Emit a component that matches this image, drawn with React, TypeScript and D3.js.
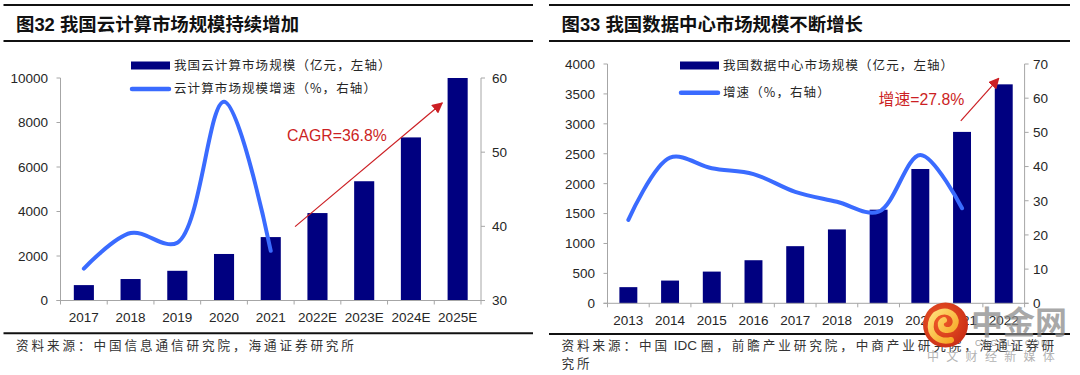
import React from 'react';
import * as d3 from 'd3';

// ---- Data: left chart (cloud computing) ----
const cloudYears = ['2017', '2018', '2019', '2020', '2021', '2022E', '2023E', '2024E', '2025E'];
const cloudSize = [692, 965, 1335, 2091, 2850, 3930, 5360, 7330, 10000];
const cloudGrowthYears = ['2017', '2018', '2019', '2020', '2021'];
const cloudGrowth = [34.3, 39.1, 37.8, 56.8, 36.7];
const cloudLeftTicks = [0, 2000, 4000, 6000, 8000, 10000];
const cloudRightTicks = [30, 40, 50, 60];

// ---- Data: right chart (data center) ----
const dcYears = ['2013', '2014', '2015', '2016', '2017', '2018', '2019', '2020', '2021', '2022'];
const dcSize = [270, 380, 530, 720, 955, 1235, 1565, 2245, 2865, 3660];
const dcGrowthYears = ['2013', '2014', '2015', '2016', '2017', '2018', '2019', '2020', '2021'];
const dcGrowth = [24.4, 42.6, 39.5, 37.8, 32.6, 29.7, 26.8, 43.4, 27.8];
const dcLeftTicks = [0, 500, 1000, 1500, 2000, 2500, 3000, 3500, 4000];
const dcRightTicks = [0, 10, 20, 30, 40, 50, 60, 70];

const NAVY = '#000080';
const BLUE = '#3A6BFF';
const RED = '#CC1F24';
const AXIS = '#A6A6A6';
const TXT = '#262626';
const NUM_FONT = '"Liberation Sans", Arial, sans-serif';
const CJK_FONT = '"Noto Sans CJK SC", "Noto Sans", sans-serif';

type PanelProps = {
  years: string[];
  size: number[];
  growthYears: string[];
  growth: number[];
  leftTicks: number[];
  rightTicks: number[];
  leftMax: number;
  rightDomain: [number, number];
  x0: number;
  x1: number;
  yTop: number;
  yBot: number;
  legendX: number;
  legendY1: number;
  legendY2: number;
  legend1: string;
  legend2: string;
  annot: { from: [number, number]; to: [number, number]; textAt: [number, number]; label: React.ReactNode };
  leftLabelGap: number;
  rightLabelGap: number;
  xLabelY: number;
  markerId: string;
};

function Panel(p: PanelProps) {
  const x = d3.scaleBand<string>().domain(p.years).range([p.x0, p.x1]).paddingInner(0.57).paddingOuter(0.285);
  const step = x.step();
  const idx = d3.scaleLinear().domain([0, p.years.length]).range([p.x0, p.x1]);
  const yL = d3.scaleLinear().domain([0, p.leftMax]).range([p.yBot, p.yTop]);
  const yR = d3.scaleLinear().domain(p.rightDomain).range([p.yBot, p.yTop]);
  const line = d3
    .line<number>()
    .x((_, i) => (x(p.growthYears[i]) as number) + x.bandwidth() / 2)
    .y((d) => yR(d))
    .curve(d3.curveCatmullRom.alpha(0.5));
  const boundaries = d3.range(p.years.length + 1).map((i) => p.x0 + i * step);

  return (
    <g>
      {p.years.map((yr, i) => (
        <rect key={yr} x={x(yr)} y={yL(p.size[i])} width={x.bandwidth()} height={p.yBot - yL(p.size[i])} fill={NAVY} />
      ))}
      <line x1={p.x0} x2={p.x0} y1={p.yTop} y2={p.yBot} stroke={AXIS} strokeWidth={1} />
      <line x1={p.x1} x2={p.x1} y1={p.yTop} y2={p.yBot} stroke={AXIS} strokeWidth={1} />
      <line x1={p.x0 - 4} x2={p.x1 + 4} y1={p.yBot} y2={p.yBot} stroke={AXIS} strokeWidth={1} />
      {boundaries.map((bx, i) => (
        <line key={'b' + i} x1={bx} x2={bx} y1={p.yBot} y2={p.yBot + 4} stroke={AXIS} strokeWidth={1} />
      ))}
      {p.leftTicks.map((t) => (
        <g key={'l' + t}>
          <line x1={p.x0 - 4} x2={p.x0} y1={yL(t)} y2={yL(t)} stroke={AXIS} />
          <text x={p.x0 - p.leftLabelGap} y={yL(t)} dy="0.36em" textAnchor="end" fontFamily={NUM_FONT} fontSize={13.5} fill={TXT}>
            {t}
          </text>
        </g>
      ))}
      {p.rightTicks.map((t) => (
        <g key={'r' + t}>
          <line x1={p.x1} x2={p.x1 + 4} y1={yR(t)} y2={yR(t)} stroke={AXIS} />
          <text x={p.x1 + p.rightLabelGap} y={yR(t)} dy="0.36em" textAnchor="start" fontFamily={NUM_FONT} fontSize={13.5} fill={TXT}>
            {t}
          </text>
        </g>
      ))}
      {p.years.map((yr) => (
        <text key={'x' + yr} x={(x(yr) as number) + x.bandwidth() / 2} y={p.xLabelY} textAnchor="middle" fontFamily={NUM_FONT} fontSize={13.5} fill={TXT}>
          {yr}
        </text>
      ))}
      <path d={line(p.growth) || ''} fill="none" stroke={BLUE} strokeWidth={4} strokeLinecap="round" strokeLinejoin="round" />
      <rect x={p.legendX} y={p.legendY1 - 4} width={39} height={8} fill={NAVY} />
      <text x={p.legendX + 43} y={p.legendY1} dy="0.35em" fontFamily={CJK_FONT} fontSize={12.5} letterSpacing={1.1} fill={TXT}>
        {p.legend1}
      </text>
      <line x1={p.legendX + 1} x2={p.legendX + 38} y1={p.legendY2} y2={p.legendY2} stroke={BLUE} strokeWidth={4.5} strokeLinecap="round" />
      <text x={p.legendX + 43} y={p.legendY2} dy="0.35em" fontFamily={CJK_FONT} fontSize={12.5} letterSpacing={1.1} fill={TXT}>
        {p.legend2}
      </text>
      <defs>
        <marker id={p.markerId} viewBox="0 0 10 10" refX={9} refY={5} markerWidth={11} markerHeight={11} markerUnits="userSpaceOnUse" orient="auto">
          <path d="M0,0 L10,5 L0,10 Z" fill={RED} />
        </marker>
      </defs>
      <line
        x1={idx(p.annot.from[0])}
        y1={yL(p.annot.from[1])}
        x2={idx(p.annot.to[0])}
        y2={yL(p.annot.to[1])}
        stroke={RED}
        strokeWidth={1.2}
        markerEnd={`url(#${p.markerId})`}
      />
      <text x={idx(p.annot.textAt[0])} y={yL(p.annot.textAt[1])} dy="0.36em" fill={RED} fontFamily={NUM_FONT} fontSize={15.8}>
        {p.annot.label}
      </text>
    </g>
  );
}

function Frame({ xa, xb, title, bottomY, sources }: { xa: number; xb: number; title: React.ReactNode; bottomY: number; sources: React.ReactNode[] }) {
  return (
    <g>
      <line x1={xa} x2={xb} y1={5} y2={5} stroke="#111" strokeWidth={2} />
      <line x1={xa} x2={xb} y1={41} y2={41} stroke="#111" strokeWidth={2.2} />
      <line x1={xa} x2={xb} y1={bottomY} y2={bottomY} stroke="#111" strokeWidth={2} />
      <text x={xa + 12.5} y={24} dy="0.36em" fontFamily={`"Liberation Sans", ${CJK_FONT}`} fontWeight="bold" fontSize={18.4} fill="#111">
        {title}
      </text>
      {sources.map((s, i) => (
        <text key={i} x={xa + 12.5} y={345.5 + i * 18} dy="0.36em" fontFamily={CJK_FONT} fontSize={12.6} letterSpacing={2.9} fill="#333">
          {s}
        </text>
      ))}
    </g>
  );
}

function Watermark() {
  return (
    <g>
      <defs>
        <radialGradient id="wmg" cx="0.4" cy="0.4" r="0.7">
          <stop offset="0" stopColor="#F05A28" />
          <stop offset="1" stopColor="#C62A14" />
        </radialGradient>
        <linearGradient id="wmy" x1="0" y1="0" x2="1" y2="1">
          <stop offset="0" stopColor="#FFE07A" />
          <stop offset="1" stopColor="#F6A21E" />
        </linearGradient>
      </defs>
      <text x={971} y={322} dy="0.36em" fontFamily={CJK_FONT} fontWeight="bold" fontSize={32} fill="#8c8c8c" opacity={0.75} letterSpacing={0}>
        中金网
      </text>
      <text x={975} y={343} dy="0.36em" fontFamily={NUM_FONT} fontSize={8.5} fill="#8c8c8c" opacity={0.8} letterSpacing={1.6}>
        CNGOLD.COM
      </text>
      <text x={927} y={357} dy="0.36em" fontFamily={CJK_FONT} fontSize={12} fill="#9a9a9a" opacity={0.75} letterSpacing={7.3}>
        中文财经新媒体
      </text>
      <circle cx={945.5} cy={325} r={22.5} fill="url(#wmg)" />
      <path
        d="M951,340 C938,343 929,334 931,323 C933,312 946,308 953,315 C959,322 954,331 946,330 C940,329 939,322 944,320"
        fill="none"
        stroke="url(#wmy)"
        strokeWidth={6}
        strokeLinecap="round"
      />
    </g>
  );
}

export default function App() {
  return (
    <svg width={1080} height={375} viewBox="0 0 1080 375" style={{ position: 'absolute', left: 0, top: 0, background: '#fff' }}>
      <rect x={0} y={0} width={1080} height={375} fill="#fff" />
      <Frame
        xa={3.5}
        xb={533}
        bottomY={333.3}
        title={<>图32 我国云计算市场规模持续增加</>}
        sources={['资料来源：中国信息通信研究院，海通证券研究所']}
      />
      <Frame
        xa={549}
        xb={1070}
        bottomY={334}
        title={<>图33 我国数据中心市场规模不断增长</>}
        sources={[
          <>
            资料来源：中国
            <tspan fontFamily={NUM_FONT} letterSpacing={0} fontSize={13.5}> IDC </tspan>
            圈，前瞻产业研究院，中商产业研究院，海通证券研
          </>,
          '究所',
        ]}
      />
      <Panel
        years={cloudYears}
        size={cloudSize}
        growthYears={cloudGrowthYears}
        growth={cloudGrowth}
        leftTicks={cloudLeftTicks}
        rightTicks={cloudRightTicks}
        leftMax={10000}
        rightDomain={[30, 60]}
        x0={60.5}
        x1={481}
        yTop={78}
        yBot={300.5}
        legendX={131}
        legendY1={65.5}
        legendY2={89}
        legend1="我国云计算市场规模（亿元，左轴）"
        legend2="云计算市场规模增速（%，右轴）"
        annot={{ from: [5.02, 3320], to: [8.17, 8880], textAt: [4.85, 7440], label: 'CAGR=36.8%' }}
        leftLabelGap={12.5}
        rightLabelGap={11}
        xLabelY={321.5}
        markerId="arrL"
      />
      <Panel
        years={dcYears}
        size={dcSize}
        growthYears={dcGrowthYears}
        growth={dcGrowth}
        leftTicks={dcLeftTicks}
        rightTicks={dcRightTicks}
        leftMax={4000}
        rightDomain={[0, 70]}
        x0={607.5}
        x1={1024.6}
        yTop={64}
        yBot={303.3}
        legendX={680}
        legendY1={65.5}
        legendY2={92.7}
        legend1="我国数据中心市场规模（亿元，左轴）"
        legend2="增速（%，右轴）"
        annot={{
          from: [8.47, 3050],
          to: [9.38, 3760],
          textAt: [6.5, 3410],
          label: (
            <>
              <tspan fontFamily={CJK_FONT}>增速</tspan>
              <tspan>=27.8%</tspan>
            </>
          ),
        }}
        leftLabelGap={12.5}
        rightLabelGap={8.5}
        xLabelY={325}
        markerId="arrR"
      />
      <Watermark />
    </svg>
  );
}
